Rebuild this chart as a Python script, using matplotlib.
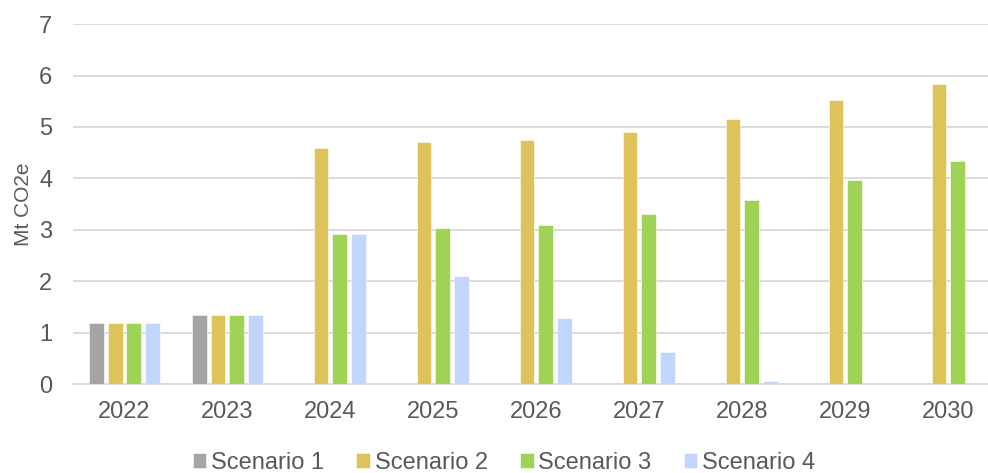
import numpy as np
import matplotlib.pyplot as plt

plt.rcParams['font.family'] = ['Liberation Sans', 'DejaVu Sans']

years = ['2022', '2023', '2024', '2025', '2026', '2027', '2028', '2029', '2030']
scenario_1 = [1.19, 1.34, 0, 0, 0, 0, 0, 0, 0]
scenario_2 = [1.19, 1.34, 4.60, 4.70, 4.74, 4.91, 5.15, 5.52, 5.84]
scenario_3 = [1.19, 1.34, 2.92, 3.03, 3.09, 3.31, 3.57, 3.97, 4.33]
scenario_4 = [1.19, 1.34, 2.92, 2.10, 1.28, 0.62, 0.06, 0, 0]

names = ['Scenario 1', 'Scenario 2', 'Scenario 3', 'Scenario 4']
colors = ['#A5A5A5', '#DEC35A', '#9FD356', '#C2D5FC']
series = [scenario_1, scenario_2, scenario_3, scenario_4]

text_col = '#595959'
grid_col = '#D9D9D9'

fig = plt.figure(figsize=(9.88, 4.73), dpi=100)
ax = fig.add_axes([0.0739, 0.188, 0.938, 0.761])

x = np.arange(len(years))
step = 0.1816
width = 0.143
for i, (vals, name, c) in enumerate(zip(series, names, colors)):
    ax.bar(x + (i - 1.5) * step, vals, width, color=c, label=name,
           edgecolor='white', linewidth=0.4, zorder=3)

ax.set_xlim(-0.5, len(years) - 0.5)
ax.set_ylim(0, 7)
ax.set_yticks(range(0, 8))
ax.set_xticks(x)
ax.set_xticklabels(years)
ax.tick_params(axis='both', length=0, labelsize=17, labelcolor=text_col)
ax.tick_params(axis='y', pad=15)
ax.tick_params(axis='x', pad=12)

ax.grid(axis='y', color=grid_col, linewidth=1.3, zorder=0)
for s in ['top', 'right', 'left']:
    ax.spines[s].set_visible(False)
ax.spines['bottom'].set_color(grid_col)
ax.spines['bottom'].set_linewidth(1.3)

ax.set_ylabel('Mt CO2e', fontsize=15, color=text_col, labelpad=4)

fig.legend(loc='center', bbox_to_anchor=(504 / 988, 0.022), ncol=4,
           frameon=False, fontsize=17, handlelength=0.58, handleheight=0.58,
           handletextpad=0.2, columnspacing=1.36, labelcolor=text_col,
           borderpad=0)

fig.savefig('out.png', dpi=100)
